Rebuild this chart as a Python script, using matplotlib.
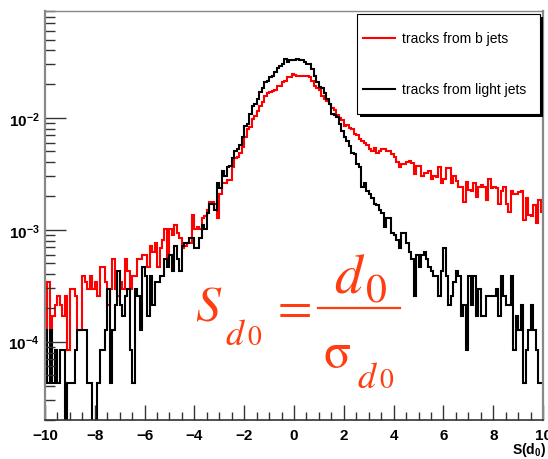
import numpy as np
import matplotlib.pyplot as plt
from matplotlib.ticker import MultipleLocator, LogLocator, NullFormatter, FuncFormatter
from matplotlib.patches import Rectangle
from matplotlib.lines import Line2D

plt.rcParams['font.family'] = ['Liberation Sans', 'DejaVu Sans']
plt.rcParams['mathtext.fontset'] = 'custom'
plt.rcParams['mathtext.rm'] = 'Liberation Sans'
plt.rcParams['mathtext.bf'] = 'Liberation Sans:bold'

# 200 bins of S(d0) from -10 to 10, entries per bin, normalised to unit area
edges = np.linspace(-10, 10, 201)
unit = 4.25e-5

# tracks from b jets
b_jets = [
    3, 8, 3, 4, 5, 6, 5, 4, 6, 2,
    7, 7, 6, 3, 3, 9, 8, 7, 9, 7,
    8, 6, 11, 11, 8, 5, 7, 13, 7, 6,
    8, 7, 13, 10, 7, 9, 9, 13, 13, 14,
    14, 11, 17, 15, 18, 11, 16, 19, 24, 13,
    24, 21, 26, 22, 20, 16, 17, 18, 18, 32,
    24, 25, 24, 30, 31, 35, 42, 42, 40, 30,
    49, 61, 61, 66, 66, 86, 103, 106, 115, 130,
    160, 188, 195, 231, 245, 270, 297, 325, 365, 390,
    400, 410, 420, 455, 455, 490, 500, 546, 540, 581,
    570, 550, 550, 550, 550, 550, 540, 505, 455, 435,
    420, 370, 348, 330, 315, 290, 276, 250, 235, 225,
    198, 204, 192, 188, 169, 164, 153, 145, 141, 135,
    124, 120, 127, 115, 120, 124, 125, 120, 118, 112,
    105, 95, 86, 91, 91, 95, 97, 93, 74, 87,
    87, 71, 76, 76, 78, 67, 71, 69, 85, 62,
    67, 83, 83, 62, 71, 64, 57, 57, 42, 63,
    53, 52, 61, 46, 57, 59, 57, 43, 67, 55,
    57, 55, 40, 52, 57, 40, 34, 52, 49, 49,
    51, 52, 29, 45, 32, 31, 39, 27, 43, 34,
]

# tracks from light jets
light_jets = [
    3, 1, 3, 1, 2, 1, 2, 2, 0, 1,
    1, 1, 2, 3, 3, 3, 3, 1, 1, 0,
    0, 1, 2, 2, 3, 7, 1, 3, 5, 10,
    5, 4, 6, 7, 2, 1, 7, 6, 3, 11,
    9, 4, 9, 5, 8, 8, 9, 9, 13, 11,
    14, 10, 17, 13, 10, 17, 18, 18, 20, 20,
    16, 16, 20, 26, 24, 33, 40, 40, 35, 61,
    55, 78, 71, 86, 88, 103, 120, 124, 135, 160,
    198, 208, 256, 300, 314, 348, 400, 435, 490, 500,
    546, 560, 605, 657, 680, 715, 792, 744, 780, 780,
    780, 790, 780, 770, 744, 715, 715, 640, 555, 490,
    445, 435, 390, 348, 314, 256, 250, 240, 208, 180,
    160, 145, 132, 115, 112, 91, 86, 57, 61, 52,
    49, 45, 40, 39, 35, 33, 25, 30, 30, 22,
    21, 19, 16, 22, 22, 18, 15, 13, 6, 14,
    11, 14, 15, 13, 11, 10, 9, 9, 6, 10,
    16, 9, 5, 6, 8, 10, 9, 4, 5, 2,
    9, 5, 9, 4, 7, 4, 4, 6, 6, 6,
    6, 7, 4, 9, 6, 5, 5, 9, 2, 4,
    3, 5, 1, 2, 3, 5, 3, 2, 1, 1,
]

labels = ['tracks from b jets', 'tracks from light jets']
colors = ['#ff0000', 'black']
formula_color = '#ff3d10'

fig = plt.figure(figsize=(5.48, 4.6), dpi=100)
ax = fig.add_axes([0.082, 0.085, 0.909, 0.889])

ax.stairs(np.array(b_jets) * unit, edges, color=colors[0], lw=1.5, baseline=None)
ax.stairs(np.array(light_jets) * unit, edges, color=colors[1], lw=1.5, baseline=None)

ax.set_yscale('log', nonpositive='clip')
ax.set_xlim(-10, 10)
ax.set_ylim(2e-5, 0.09)

# ROOT-like axes
ax.xaxis.set_major_locator(MultipleLocator(2))
ax.xaxis.set_minor_locator(MultipleLocator(0.5))
ax.yaxis.set_major_locator(LogLocator(base=10, numticks=10))
ax.yaxis.set_minor_locator(LogLocator(base=10, subs=np.arange(2, 10), numticks=20))
ax.yaxis.set_minor_formatter(NullFormatter())
ax.yaxis.set_major_formatter(FuncFormatter(lambda v, p: r'$\mathbf{10^{%d}}$' % round(np.log10(v))))
ax.tick_params(which='both', direction='in', top=False, right=False, color='#333333')
ax.tick_params(axis='x', which='major', length=11, width=1, pad=6, labelsize=11)
ax.tick_params(axis='x', which='minor', length=6, width=1)
ax.tick_params(axis='y', which='major', length=15, width=1, pad=4, labelsize=11)
ax.tick_params(axis='y', which='minor', length=7, width=1)
for lab in ax.get_xticklabels():
    lab.set_fontweight('bold')

for side in ['left', 'right', 'top']:
    ax.spines[side].set_color('#888888')
ax.spines['left'].set_linewidth(1.6)
ax.spines['right'].set_linewidth(1.6)
ax.spines['top'].set_linewidth(1.0)
ax.spines['bottom'].set_color('#333333')
ax.spines['bottom'].set_linewidth(1.2)

# legend box with ROOT style shadow
tf = fig.transFigure
fig.patches.append(Rectangle((0.657, 0.743), 0.334, 0.217, transform=tf,
                             facecolor='black', edgecolor='none', zorder=3))
fig.patches.append(Rectangle((0.6515, 0.75), 0.334, 0.2174, transform=tf,
                             facecolor='white', edgecolor='black', lw=0.8, zorder=4))
for lab, c, y in zip(labels, colors, [0.9152, 0.8043]):
    fig.lines.append(Line2D([0.6624, 0.7208], [y, y], transform=tf, color=c, lw=1.5, zorder=5))
    fig.text(0.7336, y, lab, va='center', ha='left', fontsize=10, zorder=5)

fig.text(0.997, 0.021, r'S(d$_\mathbf{0}$)', ha='right', va='center',
         fontsize=10, fontweight='bold')

# significance formula, S_d0 = d0 / sigma_d0, laid out piece by piece like TLatex
fkw = dict(color=formula_color, math_fontfamily='stix', va='baseline', ha='left')
fig.text(0.356, 0.304, r'$S$', fontsize=36, **fkw)
fig.text(0.4106, 0.25, r'$d$', fontsize=26, **fkw)
fig.text(0.4500, 0.25, r'$\mathrm{0}$', fontsize=20, **fkw)
fig.text(0.531, 0.3304, r'$=$', fontsize=36, **{**fkw, 'va': 'center', 'ha': 'center'})
fig.lines.append(Line2D([0.5803, 0.730], [0.3283, 0.3283], transform=tf,
                        color=formula_color, lw=1.6))
fig.text(0.6100, 0.3652, r'$d$', fontsize=40, **fkw)
fig.text(0.6660, 0.3435, r'$\mathrm{0}$', fontsize=30, **fkw)
fig.text(0.5894, 0.2, r'$\mathrm{\sigma}$', fontsize=36, **fkw)
fig.text(0.6515, 0.1565, r'$d$', fontsize=26, **fkw)
fig.text(0.6910, 0.1565, r'$\mathrm{0}$', fontsize=20, **fkw)

fig.savefig('out.png', dpi=100)
